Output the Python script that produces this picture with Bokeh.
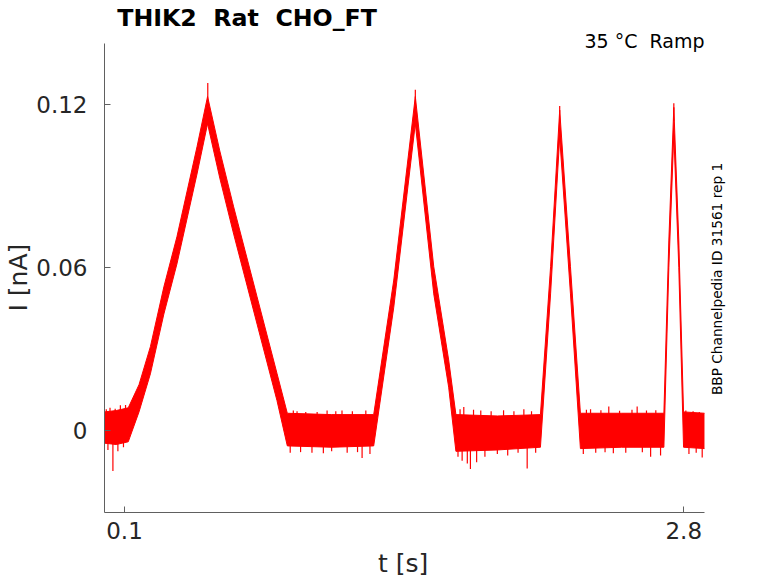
import math
from bokeh.plotting import figure
from bokeh.models import FixedTicker, Label, Range1d, Title
from bokeh.embed import file_html
from bokeh.resources import INLINE

# ---- data ----
# envelope of the noisy current trace (upper / lower edge), time in s, current in nA
t_env = [0.003, 0.06, 0.118, 0.17, 0.225, 0.29, 0.353, 0.45, 0.501, 0.56, 0.627, 0.74, 0.836, 0.886,
         1.10, 1.303, 1.40, 1.464, 1.504, 1.593, 1.665, 1.700, 1.90, 2.108, 2.157, 2.201, 2.253, 2.301,
         2.50, 2.704, 2.728, 2.752, 2.776, 2.799, 2.90]
i_hi = [0.0070, 0.0075, 0.0085, 0.0170, 0.0310, 0.0530, 0.0714, 0.1045, 0.1230, 0.1030, 0.0824, 0.0493,
        0.0212, 0.0065, 0.0060, 0.0060, 0.0555, 0.0971, 0.1230, 0.0604, 0.0261, 0.0060, 0.0055, 0.0060,
        0.0604, 0.1180, 0.0604, 0.0065, 0.0065, 0.0065, 0.0702, 0.1190, 0.0702, 0.0070, 0.0065]
i_lo = [-0.0045, -0.0050, -0.0040, 0.0070, 0.0210, 0.0430, 0.0614, 0.0945, 0.1130, 0.0930, 0.0724, 0.0393,
        0.0112, -0.0055, -0.0060, -0.0055, 0.0455, 0.0871, 0.1130, 0.0504, 0.0161, -0.0075, -0.0070, -0.0060,
        0.0504, 0.1080, 0.0504, -0.0065, -0.0060, -0.0060, 0.0602, 0.1090, 0.0602, -0.0060, -0.0065]

# isolated noise spikes on the flat parts (time, peak value; drawn from 0)
spike_t = [0.012, 0.020, 0.030, 0.044, 0.055, 0.068, 0.080, 0.095, 0.105,
           0.900, 0.915, 0.933, 0.950, 0.975, 1.005, 1.030, 1.060, 1.078, 1.100, 1.120, 1.150, 1.175,
           1.200, 1.225, 1.247, 1.265, 1.285,
           1.710, 1.720, 1.730, 1.738, 1.755, 1.770, 1.785, 1.800, 1.820, 1.840, 1.870, 1.900, 1.930,
           1.950, 1.980, 2.000, 2.028, 2.044, 2.065, 2.085,
           2.315, 2.330, 2.350, 2.375, 2.400, 2.420, 2.438, 2.460, 2.490, 2.520, 2.550, 2.575, 2.600,
           2.620, 2.640, 2.665, 2.688,
           2.810, 2.825, 2.845, 2.860, 2.875, 2.889]
spike_i = [0.0080, -0.0070, 0.0085, -0.0147, 0.0082, -0.0075, 0.0094, -0.0060, 0.0095,
           -0.0080, 0.0075, 0.0072, -0.0078, 0.0070, -0.0080, 0.0070, -0.0082, 0.0075, -0.0075, 0.0072,
           0.0075, -0.0080, 0.0072, -0.0078, -0.0100, 0.0075, -0.0085,
           -0.0095, 0.0080, -0.0110, 0.0088, -0.0120, -0.0140, 0.0078, -0.0115, 0.0075, -0.0095, 0.0072,
           -0.0085, 0.0076, -0.0090, 0.0072, -0.0080, 0.0080, -0.0138, 0.0072, -0.0080,
           -0.0085, 0.0078, 0.0080, -0.0080, 0.0076, -0.0078, 0.0090, -0.0082, 0.0074, -0.0080, 0.0078,
           0.0090, -0.0078, 0.0075, -0.0095, 0.0076, -0.0090,
           0.0075, -0.0085, 0.0072, -0.0080, 0.0070, -0.0098]
spike_base = [0.0] * len(spike_t)

# sharp tips of the four ramps (time, tip start, tip end)
tip_t = [0.502, 1.504, 2.201, 2.752]
tip_from = [0.1180, 0.1180, 0.1130, 0.1140]
tip_to = [0.1280, 0.1255, 0.1195, 0.1205]

x_ticks = [0.1, 2.8]
x_tick_labels = ["0.1", "2.8"]
y_ticks = [0, 0.06, 0.12]
y_tick_labels = ["0", "0.06", "0.12"]
x_axis_span = (0.0034, 2.9014)
y_axis_span = (-0.0300, 0.1424)

NB = "\u00a0"
title_text = "THIK2" + NB + NB + "Rat" + NB + NB + "CHO_FT"
info_text = "35" + NB + "°C" + NB + NB + "Ramp"
side_text = "BBP Channelpedia ID 31561 rep 1"
x_label = "t [s]"
y_label = "I [nA]"

TXT = "#262626"
AX = "#606060"
RED = "#ff0000"

p = figure(width=778, height=583, output_backend="svg", toolbar_location=None,
           x_range=Range1d(0.0034, 3.0739), y_range=Range1d(-0.0300, 0.15831),
           min_border_left=104, min_border_right=38, min_border_top=0, min_border_bottom=71)
p.background_fill_color = "white"
p.border_fill_color = "white"
p.outline_line_color = None
p.xgrid.visible = False
p.ygrid.visible = False

# trace
p.varea(x=t_env, y1=i_lo, y2=i_hi, fill_color=RED, fill_alpha=1.0)
p.line(x=t_env, y=i_hi, line_color=RED, line_width=1)
p.line(x=t_env, y=i_lo, line_color=RED, line_width=1)
p.segment(x0=spike_t, y0=spike_base, x1=spike_t, y1=spike_i, line_color=RED, line_width=1.2)
p.segment(x0=tip_t, y0=tip_from, x1=tip_t, y1=tip_to, line_color=RED, line_width=1.2)

for ax in (p.xaxis[0], p.yaxis[0]):
    ax.axis_line_color = AX
    ax.axis_line_width = 1
    ax.major_tick_line_color = AX
    ax.major_tick_in = 6
    ax.major_tick_out = 0
    ax.minor_tick_line_color = None
    ax.major_label_text_font = "DejaVu Sans"
    ax.major_label_text_font_size = "23px"
    ax.major_label_text_color = TXT

p.xaxis.bounds = x_axis_span
p.yaxis.bounds = y_axis_span
p.xaxis.ticker = FixedTicker(ticks=x_ticks)
p.xaxis.major_label_overrides = {v: s for v, s in zip(x_ticks, x_tick_labels)}
p.yaxis.ticker = FixedTicker(ticks=y_ticks)
p.yaxis.major_label_overrides = {v: s for v, s in zip(y_ticks, y_tick_labels)}
p.xaxis.major_label_standoff = 9
p.yaxis.major_label_standoff = 17

# axis titles (placed as side titles so they can be centred on the drawn axis span)
p.add_layout(Title(text=x_label, align="left", offset=273.5, standoff=10, text_font="DejaVu Sans",
                   text_font_size="25px", text_font_style="normal", text_color=TXT), "below")
p.add_layout(Title(text=y_label, align="left", offset=201, standoff=2, text_font="DejaVu Sans",
                   text_font_size="25px", text_font_style="normal", text_color=TXT), "left")

# chart title and annotations
p.add_layout(Label(x=0.0648, y=0.15188, text=title_text, text_align="left", text_baseline="middle",
                   text_font="DejaVu Sans", text_font_style="bold", text_font_size="23.7px",
                   text_color="black"))
p.add_layout(Label(x=2.90, y=0.14343, text=info_text, text_align="right", text_baseline="middle",
                   text_font="DejaVu Sans", text_font_size="19px", text_color="black"))
p.add_layout(Label(x=2.9609, y=0.01319, text=side_text, angle=math.pi / 2, text_align="left",
                   text_baseline="middle", text_font="DejaVu Sans", text_font_size="13.7px",
                   text_color="black"))

open("out.html", "w").write(file_html(p, INLINE))
